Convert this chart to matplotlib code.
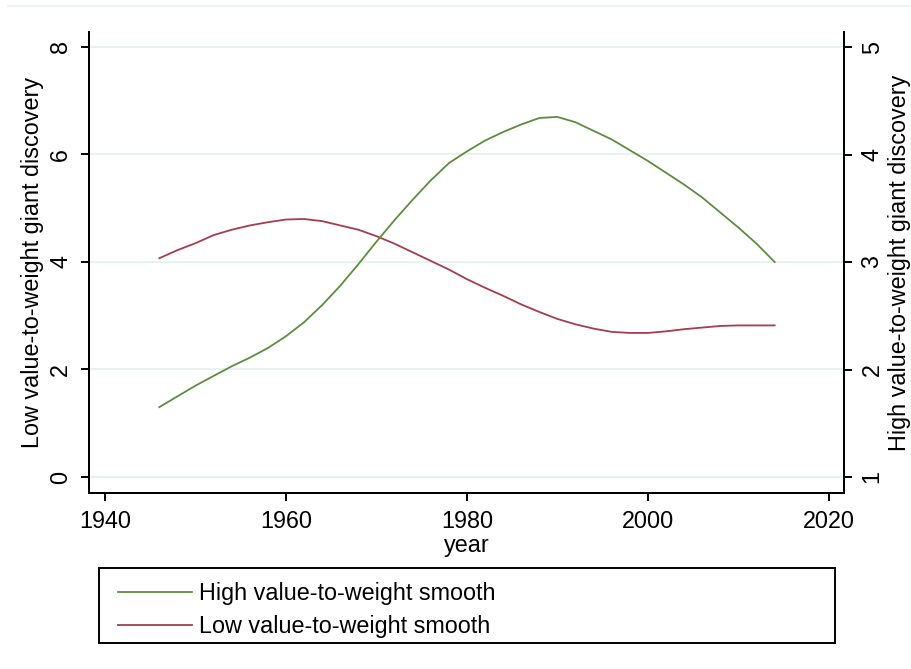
import matplotlib
matplotlib.use("Agg")
import matplotlib.pyplot as plt
from matplotlib.patches import Rectangle
from matplotlib.lines import Line2D

plt.rcParams['font.family'] = ['Liberation Sans', 'DejaVu Sans']

years = list(range(1946, 2015, 2))

# low value-to-weight smooth (left axis)
low = [4.07, 4.22, 4.35, 4.50, 4.60, 4.68, 4.74, 4.79, 4.80, 4.76,
       4.68, 4.60, 4.48, 4.34, 4.18, 4.02, 3.86, 3.68, 3.52, 3.37,
       3.21, 3.07, 2.94, 2.84, 2.76, 2.70, 2.68, 2.68, 2.71, 2.75,
       2.78, 2.81, 2.82, 2.82, 2.82]

# high value-to-weight smooth (right axis)
high = [1.65, 1.75, 1.85, 1.94, 2.03, 2.11, 2.20, 2.31, 2.44, 2.60,
        2.78, 2.98, 3.19, 3.39, 3.58, 3.76, 3.92, 4.03, 4.13, 4.21,
        4.28, 4.34, 4.35, 4.30, 4.22, 4.14, 4.04, 3.94, 3.83, 3.72,
        3.60, 3.46, 3.32, 3.17, 3.00]

xticks = [1940, 1960, 1980, 2000, 2020]
left_ticks = [0, 2, 4, 6, 8]
right_ticks = [1, 2, 3, 4, 5]

green = '#5e8c3e'
red = '#a23e4e'
fs = 16.8

fig = plt.figure(figsize=(9.11, 6.69), dpi=100)
ax = fig.add_axes([89/911, 1-493/669, (844-89)/911, (493-32)/669])
ax2 = ax.twinx()

ax.plot(years, low, color=red, lw=1.3)
ax2.plot(years, high, color=green, lw=1.3)

ax.set_xlim(1938.23, 2021.66)
ax.set_ylim(-0.298, 8.279)
ax2.set_ylim(0.851, 5.140)

for t in left_ticks:
    ax.axhline(t, color='#eaf1f3', lw=1.4, zorder=0)

ax.set_xticks(xticks)
ax.set_yticks(left_ticks)
ax2.set_yticks(right_ticks)

for a in (ax, ax2):
    a.spines['top'].set_visible(False)
    for s in a.spines.values():
        s.set_linewidth(1.4)
    a.tick_params(length=6, width=1.4, labelsize=fs)

ax.tick_params(axis='x', pad=6)
ax.tick_params(axis='y', labelrotation=90, pad=6)
ax2.tick_params(axis='y', labelrotation=90, pad=6)
for lab in ax.get_yticklabels() + ax2.get_yticklabels():
    lab.set_va('center')

ax.set_xlabel('year', fontsize=fs, labelpad=1)
ax.set_ylabel('Low value-to-weight giant discovery', fontsize=fs, labelpad=4)
ax2.set_ylabel('High value-to-weight giant discovery', fontsize=fs, labelpad=3)

# faint line at top of the graph region
fig.add_artist(Line2D([8/911, 1], [1-6/669, 1-6/669], color='#eef3f6', lw=1.4))

# legend box
fig.add_artist(Rectangle((99/911, 1-643/669), 736/911, 75/669, fill=False,
                         edgecolor='black', lw=1.4, transform=fig.transFigure))
handles = [Line2D([], [], color=green, lw=1.3), Line2D([], [], color=red, lw=1.3)]
fig.legend(handles, ['High value-to-weight smooth', 'Low value-to-weight smooth'],
           loc='upper left', bbox_to_anchor=(118/911, 1-582/669), frameon=False,
           fontsize=fs, borderpad=0, borderaxespad=0, handlelength=3.15,
           handletextpad=0.34, labelspacing=0.42)

fig.savefig('out.png', dpi=100)
